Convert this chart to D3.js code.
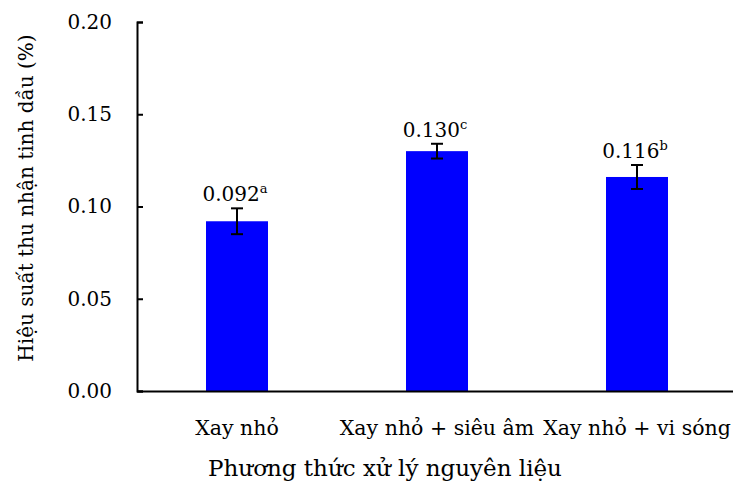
<!DOCTYPE html>
<html>
<head>
<meta charset="utf-8">
<script src="https://cdn.jsdelivr.net/npm/d3@7"></script>
<style>
  html, body { margin: 0; padding: 0; background: #fff; }
  text { font-family: "DejaVu Serif", "Liberation Serif", serif; fill: #000; }
</style>
</head>
<body>
<svg id="chart" width="733" height="481"></svg>
<script>
// Essential-oil extraction yield by raw material treatment
const categories = ["Xay nhỏ", "Xay nhỏ + siêu âm", "Xay nhỏ + vi sóng"];
const yields = [0.092, 0.130, 0.116];
const errors = [0.007, 0.004, 0.0065];
const letters = ["a", "c", "b"];
const yTicks = [0.00, 0.05, 0.10, 0.15, 0.20];

const svg = d3.select("#chart");
const plotLeft = 137, plotRight = 737, plotTop = 22, plotBottom = 391;

const x = d3.scaleBand().domain(categories).range([plotLeft, plotRight]).paddingInner(0).paddingOuter(0);
const y = d3.scaleLinear().domain([0, 0.20]).range([plotBottom, plotTop]);
const barW = 62;

// Bars
svg.append("g").selectAll("rect")
  .data(categories)
  .join("rect")
  .attr("x", (d) => x(d) + x.bandwidth() / 2 - barW / 2)
  .attr("y", (d, i) => y(yields[i]))
  .attr("width", barW)
  .attr("height", (d, i) => y(0) - y(yields[i]))
  .attr("fill", "#0000ff");

// Error bars
const eb = svg.append("g").attr("stroke", "#000").attr("stroke-width", 2);
categories.forEach((c, i) => {
  const cx = x(c) + x.bandwidth() / 2;
  const hi = y(yields[i] + errors[i]), lo = y(yields[i] - errors[i]);
  eb.append("line").attr("x1", cx).attr("x2", cx).attr("y1", hi).attr("y2", lo);
  eb.append("line").attr("x1", cx - 6).attr("x2", cx + 6).attr("y1", hi).attr("y2", hi);
  eb.append("line").attr("x1", cx - 6).attr("x2", cx + 6).attr("y1", lo).attr("y2", lo);
});

// Value labels with significance letters
categories.forEach((c, i) => {
  const cx = x(c) + x.bandwidth() / 2;
  const t = svg.append("text")
    .attr("x", cx - 2)
    .attr("y", y(yields[i] + errors[i]) - 7)
    .attr("text-anchor", "middle")
    .attr("font-size", 20);
  t.append("tspan").text(d3.format(".3f")(yields[i]));
  t.append("tspan").attr("font-size", 13).attr("dy", -8).text(letters[i]);
});

// Y axis: ticks point into the plot
const yAxis = d3.axisLeft(y)
  .tickValues(yTicks)
  .tickFormat(d3.format(".2f"))
  .tickSizeInner(-6)
  .tickSizeOuter(-6)
  .tickPadding(25);
const gy = svg.append("g").attr("transform", `translate(${plotLeft},0)`).call(yAxis);
gy.selectAll("path, line").attr("stroke", "#000").attr("stroke-width", 2);
gy.selectAll("text").attr("font-size", 20).attr("font-family", "DejaVu Serif");

// X axis: baseline only, category names underneath
const xAxis = d3.axisBottom(x).tickSize(0).tickSizeOuter(0).tickPadding(29);
const gx = svg.append("g").attr("transform", `translate(0,${plotBottom})`).call(xAxis);
gx.select("path").attr("stroke", "#000").attr("stroke-width", 2);
gx.selectAll("text").attr("font-size", 20.5).attr("font-family", "DejaVu Serif");

// Axis titles
svg.append("text")
  .attr("x", 385).attr("y", 476)
  .attr("text-anchor", "middle")
  .attr("font-size", 23)
  .text("Phương thức xử lý nguyên liệu");

svg.append("text")
  .attr("transform", "translate(33,198) rotate(-90)")
  .attr("text-anchor", "middle")
  .attr("font-size", 20)
  .text("Hiệu suất thu nhận tinh dầu (%)");
</script>
</body>
</html>
